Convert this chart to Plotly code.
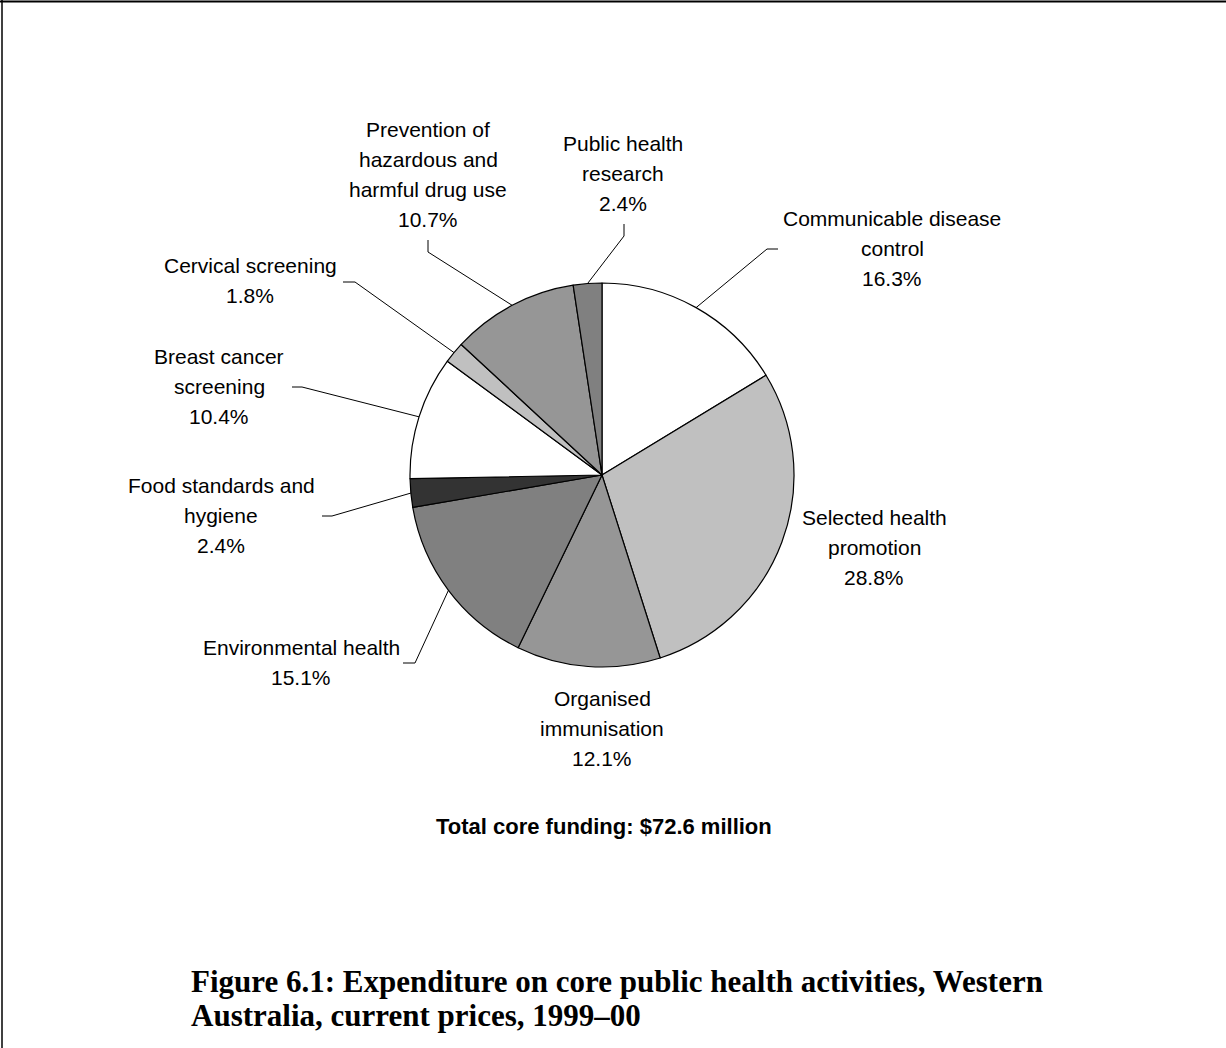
import math
import plotly.graph_objects as go

# ---- data ----
categories = [
    "Communicable disease<br>control",
    "Selected health<br>promotion",
    "Organised<br>immunisation",
    "Environmental health",
    "Food standards and<br>hygiene",
    "Breast cancer<br>screening",
    "Cervical screening",
    "Prevention of<br>hazardous and<br>harmful drug use",
    "Public health<br>research",
]
shares = [16.3, 28.8, 12.1, 15.1, 2.4, 10.4, 1.8, 10.7, 2.4]
colors = ["#FFFFFF", "#C0C0C0", "#969696", "#808080", "#333333",
          "#FFFFFF", "#C0C0C0", "#969696", "#808080"]
subtitle = "Total core funding: $72.6 million"
title_lines = ["Figure 6.1: Expenditure on core public health activities, Western",
               "Australia, current prices, 1999\u201300"]

# ---- layout config (pixels) ----
W, H = 1226, 1048
CX, CY, R = 602, 475, 192
label_pos = [(892, 218), (874, 517), (602, 698), (301, 647), (221, 485),
             (219, 356), (250, 265), (428, 129), (623, 143)]
# leader line elbow / end points (None = no leader)
leaders = [((767, 249), (778, 249)), None, None,
           ((415, 663), (403, 663)), ((332, 516), (322, 516)),
           ((302, 387), (292, 387)), ((355, 282), (343, 282)),
           ((428, 252), (428, 240)), ((624, 236), (624, 224))]
LINE_H = 30
FS = 21

fig = go.Figure()

fig.add_trace(go.Pie(
    labels=[c.replace("<br>", " ") for c in categories],
    values=shares,
    sort=False,
    direction="clockwise",
    rotation=0,
    marker=dict(colors=colors, line=dict(color="#000000", width=1.2)),
    textinfo="none",
    hoverinfo="label+percent",
    showlegend=False,
    domain=dict(x=[(CX - R) / W, (CX + R) / W],
                y=[1 - (CY + R) / H, 1 - (CY - R) / H]),
))

# leader lines computed from slice mid-angles
total = sum(shares)
cum = 0.0
lx, ly = [], []
for i, v in enumerate(shares):
    mid = (cum + v / 2) / total * 2 * math.pi
    cum += v
    if leaders[i] is None:
        continue
    sx = CX + R * math.sin(mid)
    sy = CY - R * math.cos(mid)
    (ex, ey), (tx, ty) = leaders[i]
    lx += [sx, ex, tx, None]
    ly += [sy, ey, ty, None]

fig.add_trace(go.Scatter(x=lx, y=ly, mode="lines",
                         line=dict(color="#000000", width=1),
                         hoverinfo="skip", showlegend=False))

annotations = []
for i, (cat, v) in enumerate(zip(categories, shares)):
    lines = cat.split("<br>") + [f"{v:.1f}%"]
    x0, y0 = label_pos[i]
    for k, t in enumerate(lines):
        annotations.append(dict(
            x=x0, y=y0 + k * LINE_H, xref="x", yref="y",
            text=t, showarrow=False, xanchor="center", yanchor="middle",
            font=dict(family="Liberation Sans, Arial", size=FS, color="#000000")))

annotations.append(dict(
    x=604, y=826, xref="x", yref="y", text=f"<b>{subtitle}</b>",
    showarrow=False, xanchor="center", yanchor="middle",
    font=dict(family="Liberation Sans, Arial", size=22, color="#000000")))

for k, t in enumerate(title_lines):
    annotations.append(dict(
        x=189, y=981 + k * 34, xref="x", yref="y", text=f"<b>{t}</b>",
        showarrow=False, xanchor="left", yanchor="middle",
        font=dict(family="Liberation Serif, Times New Roman", size=31, color="#000000")))

shapes = [
    dict(type="line", xref="x", yref="y", x0=0, x1=W, y0=1.5, y1=1.5,
         line=dict(color="#000000", width=2)),
    dict(type="line", xref="x", yref="y", x0=2, x1=2, y0=0, y1=H,
         line=dict(color="#000000", width=1.5)),
]

fig.update_layout(
    width=W, height=H,
    margin=dict(l=0, r=0, t=0, b=0),
    paper_bgcolor="#FFFFFF", plot_bgcolor="#FFFFFF",
    xaxis=dict(range=[0, W], visible=False, fixedrange=True),
    yaxis=dict(range=[H, 0], visible=False, fixedrange=True),
    annotations=annotations,
    shapes=shapes,
)

fig.write_html("out.html",
               config={"displayModeBar": False},
               post_script="document.body.style.margin='0';document.body.style.overflow='hidden';")
